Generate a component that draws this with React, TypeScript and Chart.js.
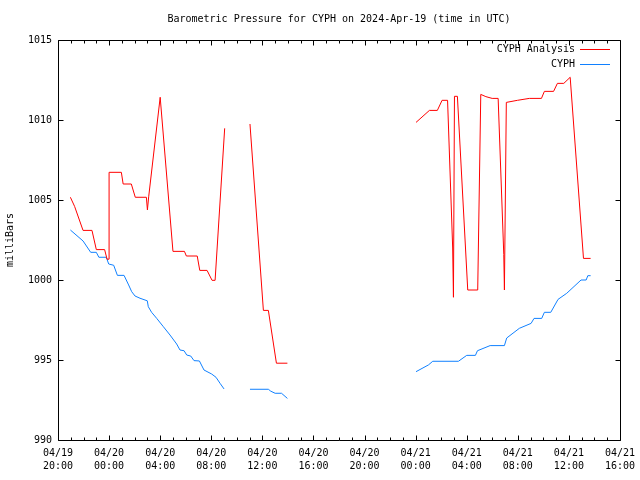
import React, { useEffect, useRef } from "react";
import { Chart, registerables } from "chart.js";

Chart.register(...registerables);

const chartTitle = "Barometric Pressure for CYPH on 2024-Apr-19 (time in UTC)";
const yAxisTitle = "milliBars";
const seriesNames = ["CYPH Analysis", "CYPH"];
const seriesColors = ["#ff0000", "#1080ff"];

// hours since 04/19 20:00 UTC
const xTickLabels = [
  ["04/19", "20:00"], ["04/20", "00:00"], ["04/20", "04:00"], ["04/20", "08:00"],
  ["04/20", "12:00"], ["04/20", "16:00"], ["04/20", "20:00"], ["04/21", "00:00"],
  ["04/21", "04:00"], ["04/21", "08:00"], ["04/21", "12:00"], ["04/21", "16:00"],
];

const analysisHours = [
  0.97, 1.3, 1.96, 2.66, 3.0, 3.65, 3.84, 4.0, 4.0, 4.96, 5.1, 5.74, 6.05, 6.92, 7.0, 7.1, 8.0,
  9.0, 9.9, 10.05, 10.9, 11.1, 11.67, 12.06, 12.3, 13.05,
  14.0,
  15.03, 16.08, 16.47, 17.1, 17.96,
  22.0,
  28.03, 29.08, 29.7, 30.07, 30.5, 30.9, 30.96, 31.04, 31.27, 32.08, 32.86, 33.1, 33.5, 33.99,
  34.46, 34.9, 34.95, 35.1, 35.97, 36.9, 37.85, 38.08, 38.8, 39.1, 39.6, 40.1, 41.14, 41.7,
];
const analysisValues = [
  1005.17, 1004.6, 1003.1, 1003.1, 1001.9, 1001.9, 1001.3, 1001.3, 1006.73, 1006.73, 1006.0, 1006.0, 1005.17, 1005.17, 1004.38, 1005.2, 1011.42,
  1001.79, 1001.79, 1001.5, 1001.5, 1000.6, 1000.6, 999.98, 999.98, 1009.48,
  null,
  1009.75, 998.1, 998.1, 994.8, 994.8,
  null,
  1009.85, 1010.6, 1010.6, 1011.23, 1011.23, 1002.0, 998.92, 1011.48, 1011.48, 999.375, 999.375, 1011.6, 1011.46, 1011.35,
  1011.35, 1001.6, 999.375, 1011.1, 1011.23, 1011.35, 1011.35, 1011.79, 1011.79, 1012.29, 1012.29, 1012.67, 1001.35, 1001.35,
];

const cyphHours = [
  0.97, 1.96, 2.56, 3.0, 3.2, 3.78, 3.97, 4.36, 4.65, 5.17, 5.53, 5.77, 6.03, 6.42, 6.99, 7.07, 7.33,
  7.73, 8.25, 8.77, 9.29, 9.55, 9.87, 10.08, 10.39, 10.65, 11.07, 11.43, 12.03, 12.37, 12.69, 13.0,
  14.0,
  15.03, 16.47, 16.66, 17.0, 17.5, 17.96,
  22.0,
  28.03, 29.0, 29.34, 31.35, 32.0, 32.68, 32.84, 33.83, 34.95, 35.13, 36.12, 37.04, 37.27, 37.87,
  38.08, 38.58, 39.15, 39.83, 40.95, 41.35, 41.48, 41.7,
];
const cyphValues = [
  1003.125, 1002.44, 1001.73, 1001.73, 1001.42, 1001.42, 1001.0, 1000.92, 1000.29, 1000.29, 999.69, 999.27, 999.0, 998.86, 998.7, 998.33, 997.98,
  997.6, 997.08, 996.56, 996.0, 995.625, 995.58, 995.31, 995.25, 994.96, 994.94, 994.375, 994.125, 993.92, 993.54, 993.19,
  null,
  993.17, 993.17, 993.05, 992.92, 992.92, 992.6,
  null,
  994.27, 994.69, 994.92, 994.92, 995.29, 995.29, 995.58, 995.9, 995.9, 996.375, 996.98, 997.29, 997.6, 997.6,
  997.98, 997.98, 998.79, 999.17, 1000.0, 1000.0, 1000.27, 1000.27,
];

const FONT = "DejaVu Sans Mono";

const framePlugin = {
  id: "gnuplotFrame",
  afterDraw(chart: any) {
    const ctx = chart.ctx;
    const { left, right, top, bottom } = chart.chartArea;
    const xs = chart.scales.x;
    const ys = chart.scales.y;
    ctx.save();
    ctx.strokeStyle = "#000";
    ctx.lineWidth = 1;
    const L = Math.round(left) + 0.5;
    const R = Math.round(right) + 0.5;
    const T = Math.round(top) + 0.5;
    const B = Math.round(bottom) + 0.5;
    ctx.beginPath();
    ctx.rect(L, T, R - L, B - T);
    for (let h = xs.min; h <= xs.max; h += 1) {
      const px = Math.round(xs.getPixelForValue(h)) + 0.5;
      const len = h % 4 === 0 ? 5 : 3;
      ctx.moveTo(px, B);
      ctx.lineTo(px, B - len);
      ctx.moveTo(px, T);
      ctx.lineTo(px, T + len);
    }
    for (let v = ys.min; v <= ys.max; v += 5) {
      const py = Math.round(ys.getPixelForValue(v)) + 0.5;
      ctx.moveTo(L, py);
      ctx.lineTo(L + 5, py);
      ctx.moveTo(R, py);
      ctx.lineTo(R - 5, py);
    }
    ctx.stroke();

    ctx.fillStyle = "#000";
    ctx.font = `10px '${FONT}'`;
    ctx.textBaseline = "middle";
    ctx.textAlign = "center";
    ctx.fillText(chartTitle, (left + right) / 2, 19);

    ctx.save();
    ctx.translate(10, (top + bottom) / 2);
    ctx.rotate(-Math.PI / 2);
    ctx.fillText(yAxisTitle, 0, 0);
    ctx.restore();

    ctx.textAlign = "right";
    seriesNames.forEach((name, i) => {
      const y = 49 + i * 15;
      ctx.fillStyle = "#000";
      ctx.fillText(name, 575, y);
      ctx.strokeStyle = seriesColors[i];
      ctx.beginPath();
      ctx.moveTo(580, y + 0.5);
      ctx.lineTo(610, y + 0.5);
      ctx.stroke();
    });
    ctx.restore();
  },
};

export default function App() {
  const ref = useRef<HTMLCanvasElement | null>(null);
  useEffect(() => {
    if (!ref.current) return;
    const chart = new Chart(ref.current, {
      type: "line",
      data: {
        datasets: [
          {
            label: seriesNames[0],
            data: analysisHours.map((h, i) => ({ x: h, y: analysisValues[i] })) as any,
            borderColor: seriesColors[0],
            borderWidth: 1,
            pointRadius: 0,
            tension: 0,
            spanGaps: false,
          },
          {
            label: seriesNames[1],
            data: cyphHours.map((h, i) => ({ x: h, y: cyphValues[i] })) as any,
            borderColor: seriesColors[1],
            borderWidth: 1,
            pointRadius: 0,
            tension: 0,
            spanGaps: false,
          },
        ],
      },
      options: {
        responsive: false,
        animation: false,
        layout: { padding: { top: 40, right: 20, left: 0, bottom: 0 } },
        plugins: {
          legend: { display: false },
          title: { display: false },
          tooltip: { enabled: false },
        },
        scales: {
          x: {
            type: "linear",
            min: 0,
            max: 44,
            grid: { display: false, drawTicks: false },
            border: { display: false },
            ticks: {
              stepSize: 4,
              autoSkip: false,
              maxRotation: 0,
              padding: 7,
              color: "#000",
              font: { family: FONT, size: 10, lineHeight: 1.3 },
              callback: (v: any) => xTickLabels[Math.round(Number(v) / 4)] as any,
            },
            afterFit: (s: any) => {
              s.height = 40;
              s.paddingLeft = 0;
              s.paddingRight = 0;
            },
          },
          y: {
            min: 990,
            max: 1015,
            grid: { display: false, drawTicks: false },
            border: { display: false },
            ticks: {
              stepSize: 5,
              padding: 6,
              color: "#000",
              font: { family: FONT, size: 10 },
              callback: (v: any) => String(v),
            },
            afterFit: (s: any) => {
              s.width = 58;
              s.paddingTop = 0;
              s.paddingBottom = 0;
            },
          },
        },
      },
      plugins: [framePlugin],
    });
    return () => chart.destroy();
  }, []);
  return (
    <div style={{ position: "absolute", left: 0, top: 0, width: 640, height: 480, background: "#fff" }}>
      <canvas ref={ref} width={640} height={480} style={{ display: "block" }} />
    </div>
  );
}
